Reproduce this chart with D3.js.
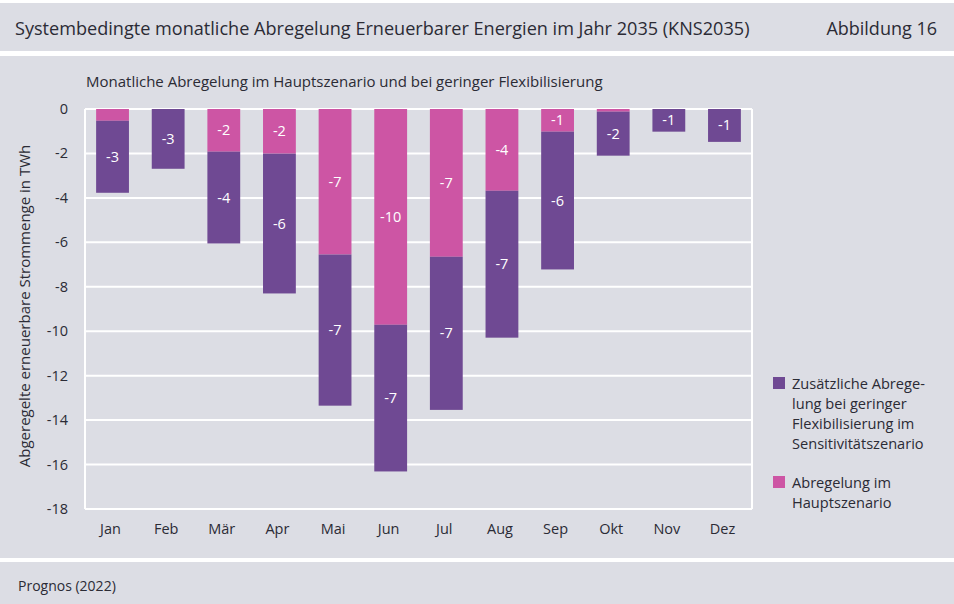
<!DOCTYPE html>
<html lang="de">
<head>
  <meta charset="UTF-8" />
  <title>Abbildung 16</title>
  <script src="https://d3js.org/d3.v7.min.js"></script>
  <style>
    body {
      margin: 0;
      background: #ffffff;
      font-family: 'Open Sans', sans-serif;
    }
    svg { display: block; }
    text { fill: #2b2b35; }
    .grid line { stroke: #ffffff; stroke-width: 2; }
    .bar-label { fill: #ffffff; font-size: 14.5px; }
  </style>
</head>
<body>
  <div id="chart"></div>

  <script>
    const months = ["Jan", "Feb", "Mär", "Apr", "Mai", "Jun", "Jul", "Aug", "Sep", "Okt", "Nov", "Dez"];
    // Abregelung im Hauptszenario (TWh, negative)
    const hauptszenario = [-0.53, 0, -1.92, -2.01, -6.55, -9.71, -6.65, -3.68, -1.02, -0.12, 0, 0];
    // Zusätzliche Abregelung bei geringer Flexibilisierung (TWh, negative)
    const zusaetzlich = [-3.24, -2.69, -4.13, -6.29, -6.80, -6.60, -6.89, -6.61, -6.20, -1.98, -1.02, -1.48];
    const yTicks = [0, -2, -4, -6, -8, -10, -12, -14, -16, -18];

    const W = 954, H = 604;
    const bg = "#dcdde4";
    const cPurple = "#6f4993";
    const cPink = "#cd55a4";

    const svg = d3.select("#chart").append("svg")
      .attr("width", W)
      .attr("height", H);

    // panels
    svg.append("rect").attr("x", 0).attr("y", 3).attr("width", W).attr("height", 48).attr("fill", bg);
    svg.append("rect").attr("x", 0).attr("y", 56).attr("width", W).attr("height", 502).attr("fill", bg);
    svg.append("rect").attr("x", 0).attr("y", 562).attr("width", W).attr("height", 42).attr("fill", bg);

    svg.append("text")
      .attr("x", 15).attr("y", 35)
      .style("font-size", "18.1px")
      .text("Systembedingte monatliche Abregelung Erneuerbarer Energien im Jahr 2035 (KNS2035)");
    svg.append("text")
      .attr("x", 937).attr("y", 35)
      .attr("text-anchor", "end")
      .style("font-size", "18px")
      .text("Abbildung 16");

    svg.append("text")
      .attr("x", 86).attr("y", 87)
      .style("font-size", "15px")
      .text("Monatliche Abregelung im Hauptszenario und bei geringer Flexibilisierung");

    svg.append("text")
      .attr("x", 18).attr("y", 591)
      .style("font-size", "14px")
      .text("Prognos (2022)");

    // plot
    const plot = { left: 85, right: 752, top: 109, bottom: 509 };

    const x = d3.scaleBand()
      .domain(months)
      .range([plot.left, plot.right])
      .paddingInner(0.41)
      .paddingOuter(0.2);

    const y = d3.scaleLinear()
      .domain([-18, 0])
      .range([plot.bottom, plot.top]);

    // grid lines
    svg.append("g").attr("class", "grid")
      .selectAll("line")
      .data(yTicks)
      .join("line")
      .attr("x1", plot.left).attr("x2", plot.right)
      .attr("y1", d => y(d)).attr("y2", d => y(d));

    // frame sides
    svg.append("line").attr("x1", plot.left).attr("x2", plot.left)
      .attr("y1", plot.top).attr("y2", plot.bottom)
      .attr("stroke", "#fff").attr("stroke-width", 2);
    svg.append("line").attr("x1", plot.right).attr("x2", plot.right)
      .attr("y1", plot.top).attr("y2", plot.bottom)
      .attr("stroke", "#fff").attr("stroke-width", 2);

    // stacked segments
    const segments = [];
    months.forEach((m, i) => {
      segments.push({ month: m, y0: 0, y1: hauptszenario[i], color: cPink, v: hauptszenario[i] });
      segments.push({ month: m, y0: hauptszenario[i], y1: hauptszenario[i] + zusaetzlich[i], color: cPurple, v: zusaetzlich[i] });
    });

    svg.append("g")
      .selectAll("rect")
      .data(segments)
      .join("rect")
      .attr("x", d => x(d.month))
      .attr("width", x.bandwidth())
      .attr("y", d => y(d.y0))
      .attr("height", d => y(d.y1) - y(d.y0))
      .attr("fill", d => d.color);

    svg.append("g")
      .selectAll("text")
      .data(segments.filter(d => y(d.y1) - y(d.y0) > 16))
      .join("text")
      .attr("class", "bar-label")
      .attr("x", d => x(d.month) + x.bandwidth() / 2)
      .attr("y", d => (y(d.y0) + y(d.y1)) / 2 + 5)
      .attr("text-anchor", "middle")
      .text(d => "-" + Math.abs(Math.round(d.v)));

    // y axis labels
    svg.append("g")
      .selectAll("text")
      .data(yTicks)
      .join("text")
      .attr("x", 68)
      .attr("y", d => y(d) + 5)
      .attr("text-anchor", "end")
      .style("font-size", "14.5px")
      .text(d => d);

    // x axis labels
    svg.append("g")
      .selectAll("text")
      .data(months)
      .join("text")
      .attr("x", d => x(d) + x.bandwidth() / 2 - 2)
      .attr("y", 534)
      .attr("text-anchor", "middle")
      .style("font-size", "14.5px")
      .text(d => d);

    svg.append("text")
      .attr("transform", `translate(30,${(plot.top + plot.bottom) / 2 - 3}) rotate(-90)`)
      .attr("text-anchor", "middle")
      .style("font-size", "15px")
      .text("Abgeregelte erneuerbare Strommenge in TWh");

    // legend
    const legend = [
      { color: cPurple, lines: ["Zusätzliche Abrege-", "lung bei geringer", "Flexibilisierung im", "Sensitivitätszenario"], y: 377 },
      { color: cPink, lines: ["Abregelung im", "Hauptszenario"], y: 476 }
    ];
    const lg = svg.append("g");
    legend.forEach(item => {
      lg.append("rect")
        .attr("x", 773).attr("y", item.y)
        .attr("width", 12).attr("height", 12)
        .attr("fill", item.color);
      item.lines.forEach((line, i) => {
        lg.append("text")
          .attr("x", 792)
          .attr("y", item.y + 12 + i * 20)
          .style("font-size", "14.6px")
          .text(line);
      });
    });
  </script>
</body>
</html>
